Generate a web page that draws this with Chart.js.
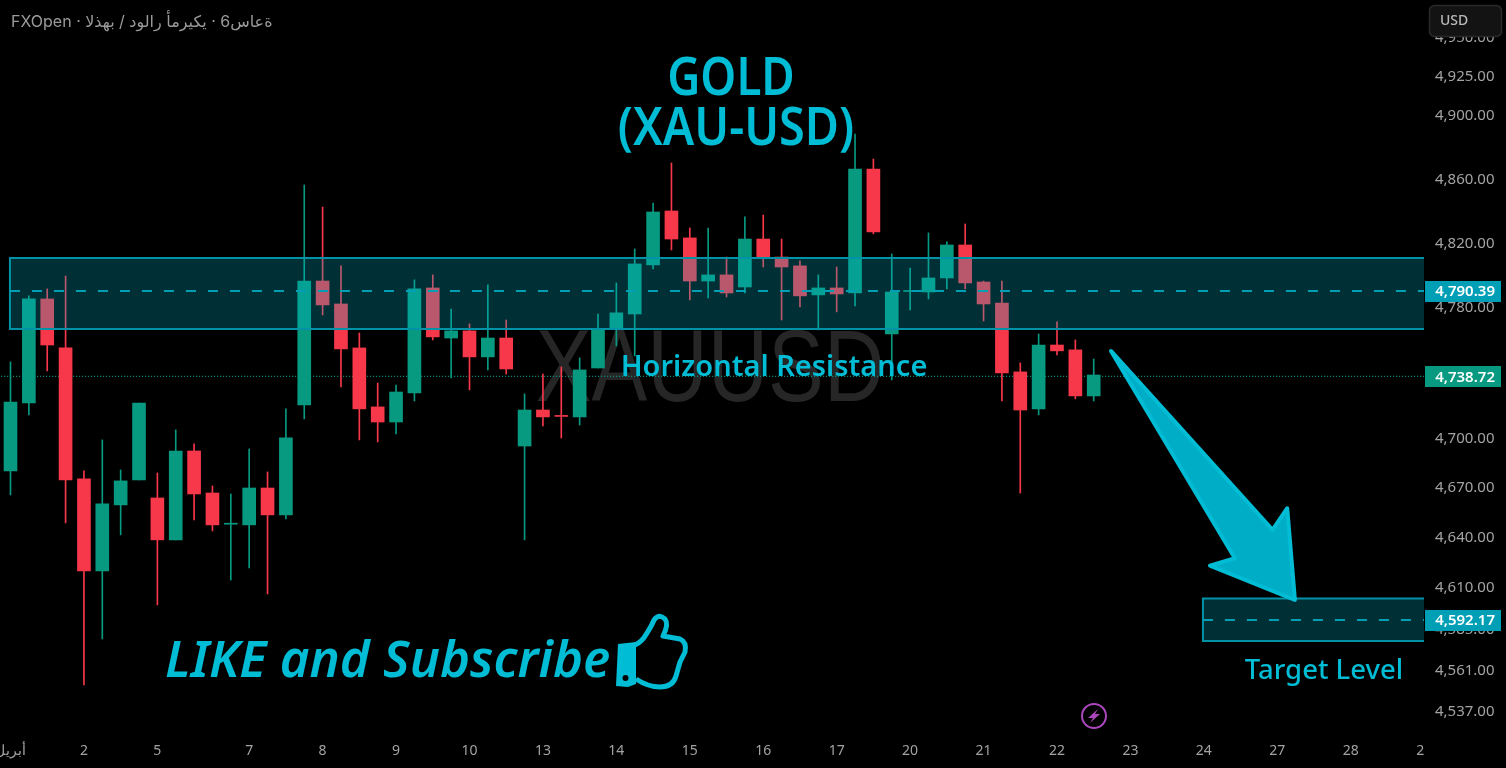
<!DOCTYPE html>
<html>
<head>
<meta charset="utf-8">
<title>XAUUSD</title>
<script src="https://cdn.jsdelivr.net/npm/chart.js@4/dist/chart.umd.min.js"></script>
<style>
  html, body { margin: 0; padding: 0; background: #000; overflow: hidden; }
  #chart { display: block; }
</style>
</head>
<body>
<canvas id="chart" width="1506" height="768"></canvas>
<script>
// 4h candles, one row per bar
const opens = [4680.3,4721.6,4785.5,4755.3,4675.5,4620.2,4659.8,4674.9,4664.0,4638.8,4692.4,4667.0,4648.2,4647.8,4670.0,4653.8,4720.4,4796.6,4782.4,4755.3,
  4719.2,4710.0,4727.7,4792.3,4761.4,4765.8,4749.8,4761.4,4695.4,4717.3,4714.0,4713.1,4743.0,4767.0,4776.2,4806.6,4840.2,4823.4,4796.6,4800.4,
  4792.9,4822.7,4811.5,4806.0,4788.0,4792.3,4789.2,4866.5,4763.9,4790.1,4789.8,4798.5,4819.0,4796.0,4783.0,4740.6,4718.0,4757.1,4754.1,4725.9];
const highs = [4746.7,4787.4,4791.7,4799.7,4680.3,4699.1,4680.9,4721.6,4679.1,4705.2,4696.7,4671.2,4666.4,4693.6,4679.7,4718.0,4856.5,4842.7,4806.0,4764.5,
  4733.8,4732.6,4797.3,4800.4,4779.3,4770.1,4794.2,4772.5,4727.1,4739.3,4743.6,4749.2,4776.2,4795.4,4816.5,4845.2,4870.3,4829.6,4829.6,4811.5,
  4836.5,4837.7,4822.7,4809.1,4800.4,4805.3,4888.6,4872.8,4813.4,4804.7,4826.5,4820.9,4832.1,4796.6,4796.6,4746.1,4763.9,4771.3,4760.2,4748.5];
const lows = [4665.8,4714.3,4741.2,4649.0,4552.7,4579.8,4641.8,4674.9,4600.0,4638.8,4650.8,4644.2,4614.8,4622.0,4606.5,4651.4,4711.9,4775.6,4731.4,4699.1,
  4697.9,4702.7,4722.8,4760.2,4736.9,4729.6,4741.8,4739.3,4638.8,4707.6,4700.3,4708.2,4743.0,4756.5,4750.4,4804.1,4815.9,4784.9,4786.1,4786.7,
  4789.2,4805.3,4772.5,4780.6,4766.4,4777.5,4781.2,4825.9,4735.7,4778.7,4785.5,4791.7,4791.7,4771.9,4722.8,4667.0,4714.3,4751.0,4724.1,4722.8];
const closes = [4722.2,4785.5,4757.1,4674.9,4620.2,4660.4,4674.3,4721.6,4638.8,4692.4,4666.4,4647.8,4648.8,4670.0,4653.8,4700.3,4796.6,4781.8,4754.7,4718.0,
  4710.0,4728.3,4791.7,4762.1,4765.8,4749.8,4761.4,4742.4,4717.3,4713.1,4713.4,4741.8,4767.0,4776.9,4807.2,4839.6,4822.7,4796.6,4800.4,4789.2,
  4822.7,4811.5,4805.3,4787.4,4792.3,4788.6,4866.5,4827.1,4789.8,4790.7,4798.5,4819.0,4795.4,4782.4,4740.0,4717.3,4757.1,4753.5,4725.9,4738.7];

const yTicks = [4950,4925,4900,4860,4820,4780,4700,4670,4640,4610,4585,4561,4537];
const dayBars = [0,4,8,13,17,21,25,29,33,37,41,45,49,53,57,61,65,69,73,77];
const dayLabels = ['أبريل','2','5','7','8','9','10','13','14','15','16','17','20','21','22','23','24','27','28','29'];

// tag text and the level it sits on, the picture has them a hair apart
const lastPrice = 4738.72;
const lastLevel = 4737.8;
const resistanceZone = [4767.0, 4810.9];
const resistanceMid = 4790.39;
const targetPrice = 4592.17;
const targetZone = [4578.6, 4603.8];
const targetMid = 4591.0;
const zoneStart = [-0.03, 64.95];
const arrowBars = [59.94,68.74,69.54,69.96,65.33,66.69];
const arrowPrices = [4753.45,4644.75,4657.8,4602.9,4623.4,4627.8];

const GREEN = '#089981', RED = '#f7374a', CYAN = '#00bcd4', TEAL = '#009fb5';
const TEXT_FONT = '"Noto Sans", sans-serif';

const candleColor = opens.map((o, i) => (closes[i] >= o ? GREEN : RED));
const bars = opens.map((o, i) => i);

function money(v) {
  return v.toLocaleString('en-US', { minimumFractionDigits: 2, maximumFractionDigits: 2 });
}

function noFitPadding(scale) {
  scale.paddingTop = scale.paddingBottom = scale.paddingLeft = scale.paddingRight = 0;
}

// text squeezed sideways, anchor stays at x
function squeezedText(ctx, text, x, y, squeeze) {
  ctx.save();
  ctx.translate(x, y);
  ctx.scale(squeeze, 1);
  ctx.fillText(text, 0, 0);
  ctx.restore();
}

const overlayPlugin = {
  id: 'overlay',
  beforeDatasetsDraw(chart) {
    const { ctx } = chart;
    ctx.save();
    // symbol watermark
    ctx.fillStyle = '#262626';
    ctx.font = '102px "Liberation Sans", sans-serif';
    ctx.textAlign = 'center';
    ctx.textBaseline = 'alphabetic';
    squeezedText(ctx, 'XAUUSD', 710, 401, 0.82);
    ctx.restore();
  },
  afterDatasetsDraw(chart) {
    const { ctx, chartArea, scales: { x, y } } = chart;
    const right = chartArea.right;
    ctx.save();

    // zones over the candles
    [[resistanceZone, resistanceMid, zoneStart[0]], [targetZone, targetMid, zoneStart[1]]].forEach(([zone, mid, from]) => {
      const left = x.getPixelForValue(from);
      const top = y.getPixelForValue(zone[1]);
      const bottom = y.getPixelForValue(zone[0]);
      ctx.fillStyle = 'rgba(0,188,212,0.25)';
      ctx.fillRect(left, top, right - left, bottom - top);
      ctx.strokeStyle = '#0093a7';
      ctx.lineWidth = 2;
      ctx.beginPath();
      ctx.moveTo(right, top);
      ctx.lineTo(left, top);
      ctx.lineTo(left, bottom);
      ctx.lineTo(right, bottom);
      ctx.stroke();
      ctx.strokeStyle = TEAL;
      ctx.setLineDash([10, 12]);
      ctx.beginPath();
      ctx.moveTo(left, y.getPixelForValue(mid));
      ctx.lineTo(right, y.getPixelForValue(mid));
      ctx.stroke();
      ctx.setLineDash([]);
    });

    // arrow
    ctx.beginPath();
    arrowBars.forEach((b, i) => {
      ctx.lineTo(x.getPixelForValue(b), y.getPixelForValue(arrowPrices[i]));
    });
    ctx.closePath();
    ctx.fillStyle = '#00adc6';
    ctx.fill();
    ctx.strokeStyle = CYAN;
    ctx.lineWidth = 4;
    ctx.lineJoin = 'round';
    ctx.stroke();

    // drawn text
    ctx.fillStyle = CYAN;
    ctx.textAlign = 'center';
    ctx.textBaseline = 'middle';
    ctx.font = '600 52px ' + TEXT_FONT;
    squeezedText(ctx, 'GOLD', 731, 80, 0.88);
    squeezedText(ctx, '(XAU-USD)', 736, 130, 0.9);
    ctx.font = '600 29px ' + TEXT_FONT;
    ctx.fillText('Horizontal Resistance', 774, 368);
    ctx.font = '500 27.5px ' + TEXT_FONT;
    ctx.fillText('Target Level', 1324, 671);
    ctx.font = 'italic 600 50px ' + TEXT_FONT;
    ctx.textAlign = 'left';
    squeezedText(ctx, 'LIKE and Subscribe', 165, 663, 1.02);

    // thumb icon
    ctx.strokeStyle = CYAN;
    ctx.fillStyle = CYAN;
    ctx.lineWidth = 5;
    ctx.lineJoin = 'round';
    ctx.beginPath();
    ctx.moveTo(635, 645);
    ctx.quadraticCurveTo(642, 642, 647, 633);
    ctx.quadraticCurveTo(652, 625, 654, 620);
    ctx.quadraticCurveTo(659, 613, 665, 619);
    ctx.quadraticCurveTo(669, 624, 663, 636);
    ctx.lineTo(680, 639);
    ctx.quadraticCurveTo(687, 642, 685, 652);
    ctx.lineTo(680, 662);
    ctx.lineTo(676, 676);
    ctx.quadraticCurveTo(673, 687, 660, 687);
    ctx.quadraticCurveTo(648, 687, 636, 679);
    ctx.stroke();
    ctx.beginPath();
    ctx.moveTo(618, 644);
    ctx.lineTo(636, 642);
    ctx.lineTo(636, 684);
    ctx.lineTo(628, 687);
    ctx.lineTo(616, 686);
    ctx.closePath();
    ctx.fill();
    ctx.fillStyle = '#000';
    ctx.beginPath();
    ctx.arc(625.5, 678, 3, 0, Math.PI * 2);
    ctx.fill();

    // purple bolt badge
    ctx.strokeStyle = '#ab47bc';
    ctx.lineWidth = 2;
    ctx.beginPath();
    ctx.arc(1094, 716, 12, 0, Math.PI * 2);
    ctx.stroke();
    ctx.fillStyle = '#ab47bc';
    ctx.beginPath();
    ctx.moveTo(1098, 709);
    ctx.lineTo(1088, 718);
    ctx.lineTo(1093, 718);
    ctx.lineTo(1090, 723);
    ctx.lineTo(1100, 714);
    ctx.lineTo(1095, 714);
    ctx.closePath();
    ctx.fill();

    // x axis stops at the price scale
    ctx.fillStyle = '#000';
    ctx.fillRect(right, chartArea.bottom, 82, 32);

    // price scale tags
    ctx.font = '600 15px ' + TEXT_FONT;
    ctx.textAlign = 'right';
    [[resistanceMid, resistanceMid, TEAL], [lastLevel, lastPrice, GREEN], [targetMid, targetPrice, TEAL]].forEach(([pos, shown, color]) => {
      const py = y.getPixelForValue(pos);
      ctx.fillStyle = color;
      ctx.fillRect(1425, Math.round(py) - 10, 76, 21);
      ctx.fillStyle = '#fff';
      ctx.fillText(money(shown), 1495, py + 1);
    });

    // currency button
    ctx.fillStyle = '#131313';
    ctx.strokeStyle = '#2a2a2a';
    ctx.lineWidth = 1.5;
    ctx.beginPath();
    ctx.roundRect(1429.5, 5.5, 72, 31, 5);
    ctx.fill();
    ctx.stroke();
    ctx.fillStyle = '#b8b8b8';
    ctx.font = '500 14px ' + TEXT_FONT;
    ctx.textAlign = 'left';
    ctx.fillText('USD', 1440, 21);

    // header line, the source shows it left to right letter by letter
    ctx.fillStyle = '#9a9a9a';
    ctx.font = '16px Inter, "DejaVu Sans", sans-serif';
    ctx.direction = 'ltr';
    ctx.fillText('\u202DFXOpen · الذهب / دولار أمريكي · 6ساعة\u202C', 11, 22);
    ctx.restore();
  }
};

new Chart(document.getElementById('chart'), {
  type: 'bar',
  data: {
    datasets: [
      {
        type: 'line',
        data: [{ x: -1, y: lastLevel }, { x: 78, y: lastLevel }],
        borderColor: GREEN,
        borderWidth: 1.2,
        borderDash: [1, 2],
        pointRadius: 0,
        order: 3
      },
      {
        data: bars.map(i => ({ x: i, y: [lows[i], highs[i]] })),
        backgroundColor: candleColor,
        barThickness: 1,
        grouped: false,
        order: 2
      },
      {
        data: bars.map(i => ({ x: i, y: [opens[i], closes[i]] })),
        backgroundColor: candleColor,
        barThickness: 13,
        grouped: false,
        order: 1
      }
    ]
  },
  options: {
    responsive: false,
    animation: false,
    layout: { padding: 0 },
    plugins: { legend: { display: false }, tooltip: { enabled: false } },
    scales: {
      x: {
        type: 'linear',
        position: 'bottom',
        offset: false,
        min: -0.572,
        max: 76.99,
        grid: { display: false, drawTicks: false },
        border: { display: false },
        afterBuildTicks(scale) { scale.ticks = dayBars.map(v => ({ value: v })); },
        afterFit(scale) { scale.height = 32; noFitPadding(scale); },
        ticks: {
          autoSkip: false,
          maxRotation: 0,
          color: '#a3a3a3',
          font: { family: TEXT_FONT, size: 14 },
          padding: 7,
          callback(v) { return dayLabels[dayBars.indexOf(v)]; }
        }
      },
      y: {
        type: 'logarithmic',
        position: 'right',
        min: 4522.7,
        max: 4974.0,
        grid: { display: false, drawTicks: false },
        border: { display: false },
        afterBuildTicks(scale) { scale.ticks = yTicks.map(v => ({ value: v })); },
        afterFit(scale) { scale.width = 82; noFitPadding(scale); },
        ticks: {
          autoSkip: false,
          color: '#a3a3a3',
          font: { family: TEXT_FONT, size: 15 },
          padding: 11,
          crossAlign: 'near',
          callback(v) { return money(v); }
        }
      }
    }
  },
  plugins: [overlayPlugin]
});
</script>
</body>
</html>
